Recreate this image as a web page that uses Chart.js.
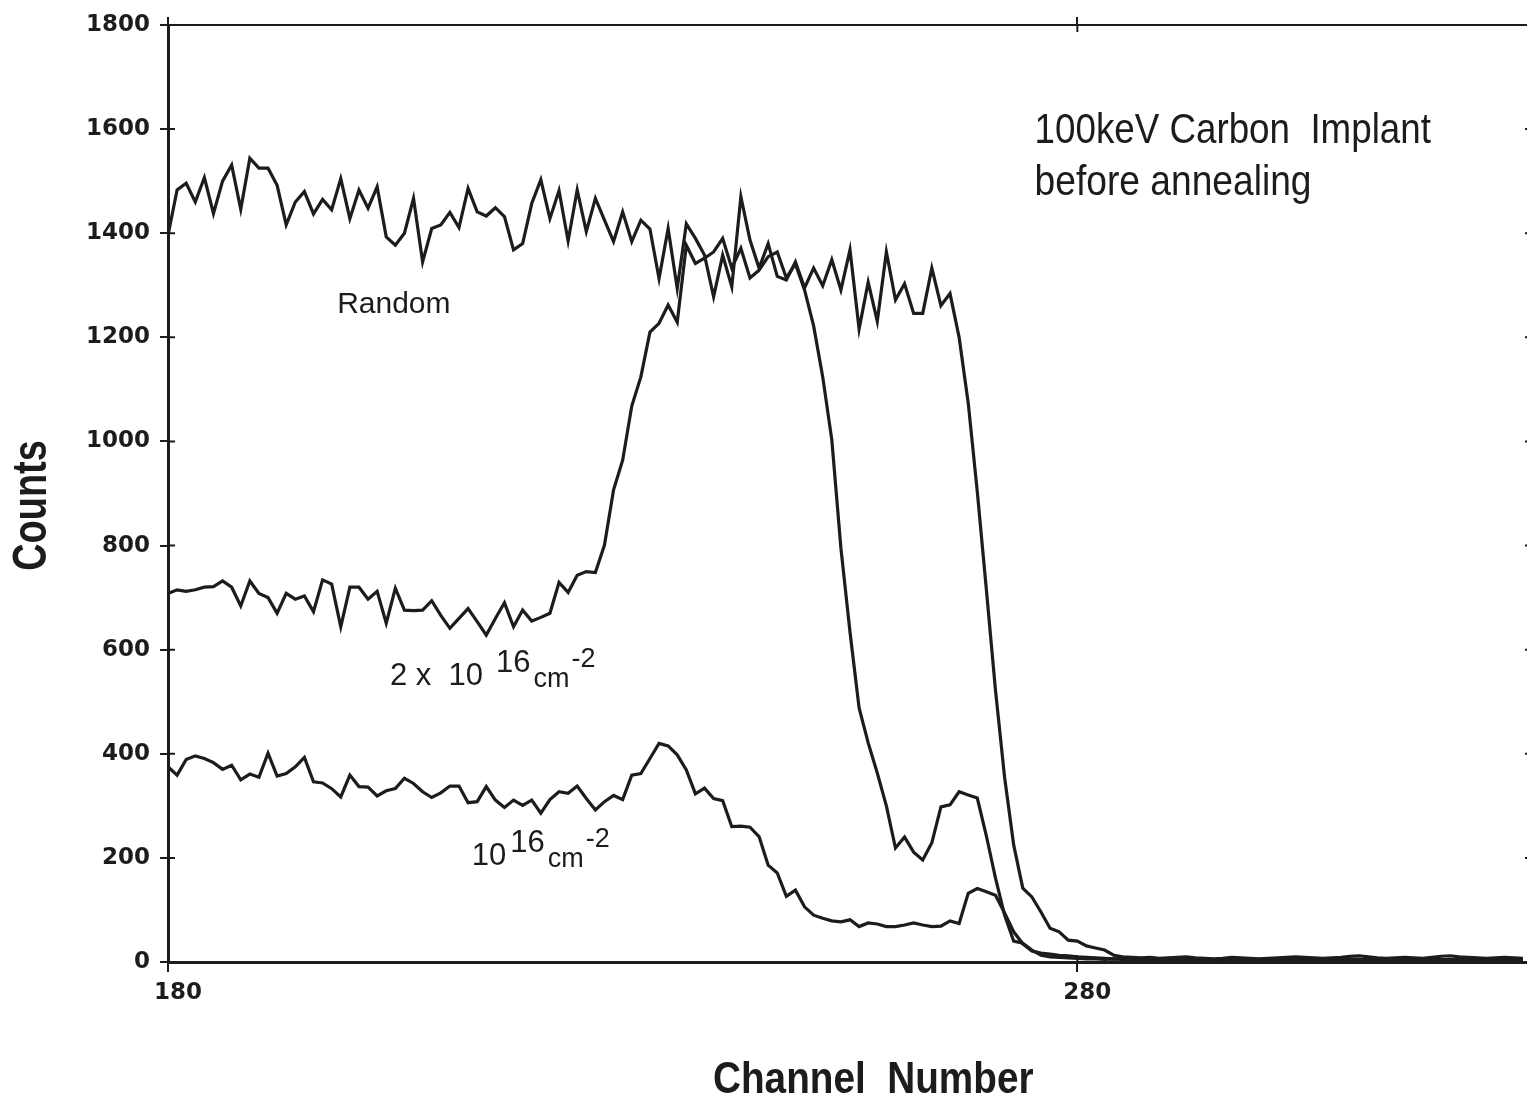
<!DOCTYPE html>
<html>
<head>
<meta charset="utf-8">
<style>
  html, body { margin: 0; padding: 0; background: #fff; overflow: hidden; }
  #wrap { width: 1540px; height: 1099px; }
</style>
<script src="https://cdn.jsdelivr.net/npm/chart.js@4.4.1/dist/chart.umd.min.js"></script>
</head>
<body>
<div id="wrap"><canvas id="rbs-chart"></canvas></div>
<script>
// one value per channel, starting at channel 180
const firstChannel = 180;
const xTickValues = [180, 280];

const random = [
  1396, 1483, 1496, 1460, 1507, 1438, 1500, 1531, 1446, 1544,
  1525, 1525, 1492, 1416, 1460, 1480, 1437, 1465, 1445, 1505,
  1428, 1483, 1448, 1489, 1393, 1377, 1400, 1467, 1345, 1409,
  1416, 1440, 1411, 1486, 1441, 1433, 1449, 1432, 1368, 1380,
  1457, 1503, 1428, 1482, 1385, 1483, 1403, 1467, 1425, 1384,
  1441, 1384, 1425, 1408, 1313, 1409, 1294, 1418, 1390, 1358,
  1278, 1358, 1297, 1470, 1387, 1333, 1380, 1317, 1310, 1345,
  1295, 1333, 1299, 1349, 1291, 1368, 1216, 1306, 1231, 1364,
  1272, 1303, 1246, 1246, 1333, 1261, 1284, 1200, 1074, 903,
  715, 522, 355, 225, 142, 125, 96, 65, 58, 42,
  40, 31, 27, 23, 13,
  10, 9, 8, 9, 7, 8, 9, 10, 8, 7,
  6, 7, 9, 8, 7, 6, 7, 8, 9, 10,
  9, 8, 7, 8, 9, 11, 12, 10, 8, 7,
  8, 9, 8, 7, 9, 11, 12, 10, 9, 8,
  7, 8, 9, 8, 7
];

const dose2e16 = [
  708, 715, 712, 715, 720, 721, 732, 720, 684, 732,
  708, 700, 670, 708, 697, 703, 673, 734, 726, 644,
  720, 720, 697, 712, 651, 718, 676, 675, 676, 694,
  666, 641, 660, 679, 654, 628, 660, 690, 644, 676,
  655, 662, 670, 729, 710, 743, 750, 748, 801, 907,
  964, 1068, 1124, 1210, 1227, 1262, 1229, 1377, 1342, 1352,
  1364, 1390, 1333, 1371, 1314, 1329, 1355, 1364, 1314, 1341,
  1291, 1222, 1124, 1003, 795, 634, 488, 421, 363, 300,
  219, 240, 211, 196, 229, 298, 302, 327, 321, 315,
  242, 161, 90, 40, 36, 23, 13,
  10, 9, 8, 7, 6, 6, 5, 6, 5, 4,
  5, 6, 5, 4, 5, 6, 5, 5, 4, 5,
  6, 5, 4, 5, 6, 5, 4, 5, 5, 6,
  5, 4, 5, 6, 5, 4, 5, 6, 5, 5,
  4, 5, 6, 5, 4, 5, 6, 5, 4, 5,
  5, 6, 5
];

const dose1e16 = [
  375, 359, 389, 396, 391, 383, 370, 378, 350, 361,
  355, 401, 357, 362, 375, 393, 346, 344, 333, 317,
  359, 337, 336, 319, 329, 333, 353, 343, 327, 316,
  325, 338, 338, 306, 308, 337, 311, 297, 311, 301,
  311, 286, 312, 327, 324, 338, 314, 292, 308, 320,
  312, 359, 362, 391, 420, 415, 398, 369, 323, 334,
  314, 310, 260, 261, 259, 241, 186, 171, 126, 138,
  106, 90, 84, 79, 77, 81, 68, 75, 73, 68,
  68, 71, 75, 71, 68, 69, 79, 74, 132, 141,
  135, 128, 94, 58, 35, 21, 17, 15, 13, 12,
  10,
  9, 8, 7, 6, 6, 5, 5, 4, 5, 4,
  3, 4, 5, 4, 3, 4, 4, 5, 4, 3,
  4, 5, 4, 3, 4, 4, 5, 4, 3, 4,
  5, 4, 4, 3, 4, 5, 4, 3, 4, 4,
  5, 4, 3, 4, 5, 4, 4, 3, 4
];

const ink = "#1c1c1c";
const tickFont = { family: "'DejaVu Sans'", size: 23, weight: "bold" };
const plain = "'Liberation Sans', Arial, sans-serif";

function toPoints(values) {
  return values.map((v, i) => ({ x: firstChannel + i, y: v }));
}

function setXTicks(scale) {
  scale.ticks = xTickValues.map((v) => ({ value: v }));
}

// small tick marks pointing into the plot, on all four sides
const innerTicks = {
  id: "innerTicks",
  afterDraw(chart) {
    const { ctx, chartArea, scales } = chart;
    ctx.save();
    ctx.strokeStyle = ink;
    ctx.lineWidth = 2;
    ctx.beginPath();
    scales.y.ticks.forEach((t) => {
      const py = scales.y.getPixelForValue(t.value);
      ctx.moveTo(chartArea.left, py);
      ctx.lineTo(chartArea.left + 7, py);
    });
    scales.yRight.ticks.forEach((t) => {
      const py = scales.yRight.getPixelForValue(t.value);
      ctx.moveTo(chartArea.right - 7, py);
      ctx.lineTo(chartArea.right, py);
    });
    scales.x.ticks.forEach((t) => {
      const px = scales.x.getPixelForValue(t.value);
      ctx.moveTo(px, chartArea.bottom);
      ctx.lineTo(px, chartArea.bottom - 7);
    });
    scales.xTop.ticks.forEach((t) => {
      const px = scales.xTop.getPixelForValue(t.value);
      ctx.moveTo(px, chartArea.top);
      ctx.lineTo(px, chartArea.top + 7);
    });
    ctx.stroke();
    ctx.restore();
  },
};

// condensed-looking text: Liberation Sans squeezed horizontally
function squeezed(ctx, text, px, py, sx, upright) {
  ctx.save();
  ctx.translate(px, py);
  if (!upright) ctx.rotate(-Math.PI / 2);
  ctx.scale(sx, 1);
  ctx.fillText(text, 0, 0);
  ctx.restore();
}

function drawDose(ctx, lead, px, py, gap) {
  ctx.font = "31px " + plain;
  ctx.fillText(lead, px, py);
  let cx = px + ctx.measureText(lead).width + gap;
  ctx.fillText("16", cx, py - 13);
  cx += ctx.measureText("16").width + 3;
  ctx.font = "27px " + plain;
  ctx.fillText("cm", cx, py + 2);
  cx += ctx.measureText("cm").width + 2;
  ctx.fillText("-2", cx, py - 18);
}

const notes = {
  id: "notes",
  afterDraw(chart) {
    const { ctx, chartArea } = chart;
    const x = chart.scales.x;
    const y = chart.scales.y;
    ctx.save();
    ctx.fillStyle = ink;
    ctx.textBaseline = "alphabetic";

    // axis titles
    ctx.textAlign = "center";
    ctx.font = "bold 48px " + plain;
    squeezed(ctx, "Counts", 46, (chartArea.top + chartArea.bottom) / 2 + 12, 0.79, false);
    ctx.textAlign = "left";
    ctx.font = "bold 44px " + plain;
    squeezed(ctx, "Channel  Number", 713, 1093, 0.88, true);

    // annotations
    ctx.font = "42px " + plain;
    squeezed(ctx, "100keV Carbon  Implant", x.getPixelForValue(275.3), y.getPixelForValue(1573), 0.875, true);
    squeezed(ctx, "before annealing", x.getPixelForValue(275.3), y.getPixelForValue(1473), 0.885, true);
    ctx.font = "30px " + plain;
    ctx.fillText("Random", x.getPixelForValue(198.6), y.getPixelForValue(1247));
    drawDose(ctx, "2 x  10", x.getPixelForValue(204.4), y.getPixelForValue(532), 13);
    drawDose(ctx, "10", x.getPixelForValue(213.4), y.getPixelForValue(186), 4);
    ctx.restore();
  },
};

new Chart(document.getElementById("rbs-chart"), {
  type: "line",
  data: {
    datasets: [
      { label: "Random", data: toPoints(random) },
      { label: "2 x 10^16 cm^-2", data: toPoints(dose2e16) },
      { label: "10^16 cm^-2", data: toPoints(dose1e16) },
    ],
  },
  options: {
    responsive: true,
    maintainAspectRatio: false,
    animation: false,
    layout: { padding: 0 },
    plugins: {
      legend: { display: false },
      tooltip: { enabled: false },
    },
    elements: {
      point: { radius: 0 },
      line: { tension: 0, borderWidth: 3.2, borderColor: ink, fill: false },
    },
    scales: {
      x: {
        type: "linear",
        position: "bottom",
        min: 180,
        max: 330,
        afterBuildTicks: setXTicks,
        afterFit: (s) => { s.height = 137; },
        border: { display: true, color: ink, width: 3 },
        grid: { drawOnChartArea: false, drawTicks: true, tickLength: 10, color: ink, lineWidth: 2 },
        ticks: {
          font: tickFont, color: ink, padding: 7, labelOffset: 10, maxRotation: 0, autoSkip: false,
          callback: (v) => String(v),
        },
      },
      xTop: {
        type: "linear",
        position: "top",
        min: 180,
        max: 330,
        afterBuildTicks: setXTicks,
        afterFit: (s) => { s.height = 25; },
        border: { display: true, color: ink, width: 2 },
        grid: { drawOnChartArea: false, drawTicks: true, tickLength: 8, color: ink, lineWidth: 2 },
        ticks: { display: false },
      },
      y: {
        position: "left",
        min: 0,
        max: 1800,
        afterFit: (s) => { s.width = 168; },
        border: { display: true, color: ink, width: 3 },
        grid: { drawOnChartArea: false, drawTicks: true, tickLength: 8, color: ink, lineWidth: 2 },
        ticks: { stepSize: 200, font: tickFont, color: ink, padding: 10, callback: (v) => String(v) },
      },
      yRight: {
        position: "right",
        min: 0,
        max: 1800,
        afterFit: (s) => { s.width = 8; },
        border: { display: true, color: ink, width: 2 },
        grid: { drawOnChartArea: false, drawTicks: false },
        ticks: { display: false, stepSize: 200 },
      },
    },
  },
  plugins: [innerTicks, notes],
});
</script>
</body>
</html>
